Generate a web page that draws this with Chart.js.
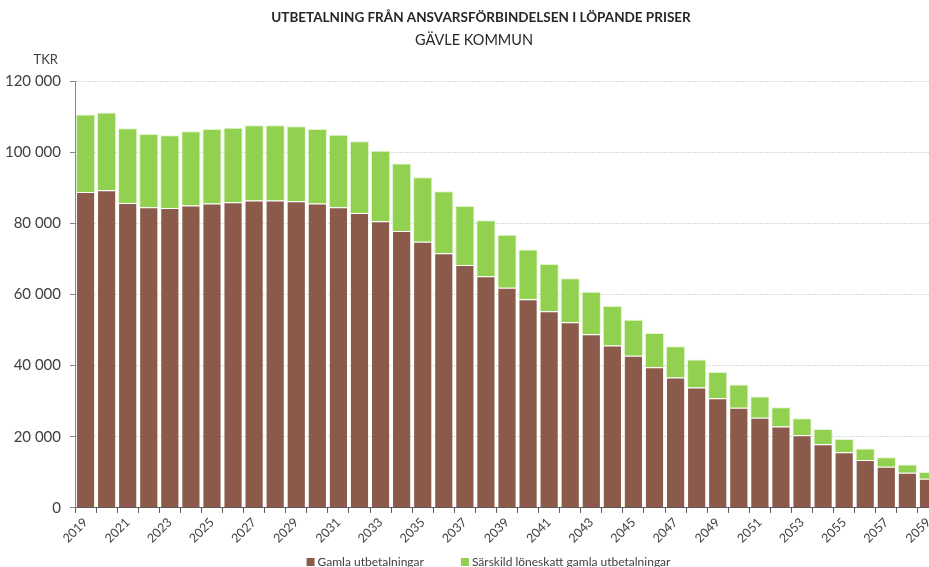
<!DOCTYPE html>
<html>
<head>
<meta charset="utf-8">
<script src="https://cdn.jsdelivr.net/npm/chart.js@4.4.1/dist/chart.umd.min.js"></script>
<style>
  html, body { margin: 0; padding: 0; background: #ffffff; overflow: hidden; }
  #wrap { position: absolute; left: 0; top: 0; width: 945px; height: 580px; }
</style>
</head>
<body>
<div id="wrap"><canvas id="c" width="945" height="580"></canvas></div>
<script>
// ---- data ----
const years = ["2019","2020","2021","2022","2023","2024","2025","2026","2027","2028",
  "2029","2030","2031","2032","2033","2034","2035","2036","2037","2038",
  "2039","2040","2041","2042","2043","2044","2045","2046","2047","2048",
  "2049","2050","2051","2052","2053","2054","2055","2056","2057","2058","2059"];

const gamlaUtbetalningar = [88800, 89320, 85730, 84520, 84320, 84970, 85540, 85930, 86390, 86390,
  86200, 85540, 84520, 82910, 80560, 77820, 74800, 71610, 68300, 65110,
  61900, 58680, 55290, 52180, 48790, 45650, 42740, 39550, 36640, 33820,
  30800, 28160, 25340, 22880, 20450, 17900, 15640, 13470, 11580, 9890, 8190];

const sarskildLoneskatt = [21800, 21810, 20970, 20570, 20400, 20880, 20960, 20960, 21150, 21150,
  21060, 20960, 20400, 20120, 19830, 18990, 18140, 17380, 16590, 15740,
  14880, 13980, 13290, 12360, 11960, 11100, 10120, 9640, 8770, 7920,
  7380, 6520, 5950, 5410, 4730, 4260, 3700, 3240, 2670, 2300, 1910];

const yTicks = [0, 20000, 40000, 60000, 80000, 100000, 120000];

const seriesNames = ["Gamla utbetalningar", "Särskild löneskatt gamla utbetalningar"];
const seriesColors = ["#8B5A4A", "#92D050"];
const titleText = "UTBETALNING FRÅN ANSVARSFÖRBINDELSEN I LÖPANDE PRISER";
const subtitleText = "GÄVLE KOMMUN";
const unitText = "TKR";

// ---- chart ----
const FONT = "Lato, 'Open Sans', 'DejaVu Sans', sans-serif";
Chart.defaults.font.family = FONT;
Chart.defaults.color = "#404040";

function fmt(v) {
  return String(v).replace(/\B(?=(\d{3})+(?!\d))/g, " ");
}

// Titles, unit label and legend drawn as text on the canvas
const textPlugin = {
  id: "textDecor",
  afterDraw(chart) {
    const ctx = chart.ctx;
    const a = chart.chartArea;
    ctx.save();
    ctx.textBaseline = "middle";

    // title + subtitle
    ctx.fillStyle = "#262626";
    ctx.textAlign = "center";
    ctx.font = "bold 13.5px " + FONT;
    ctx.fillText(titleText, 481, 18);
    ctx.font = "14.5px " + FONT;
    ctx.fillText(subtitleText, 474, 40);

    // unit
    ctx.fillStyle = "#404040";
    ctx.textAlign = "right";
    ctx.font = "13px " + FONT;
    ctx.fillText(unitText, a.left - 17, a.top - 21);

    // legend
    ctx.font = "12px " + FONT;
    ctx.textAlign = "left";
    const box = 8, gapText = 3, gapItem = 37;
    const ds = chart.data.datasets;
    const widths = ds.map(d => box + gapText + ctx.measureText(d.label).width);
    const total = widths.reduce((s, w) => s + w, 0) + gapItem * (ds.length - 1);
    let x = 488.5 - total / 2;
    const y = 562;
    ds.forEach((d, i) => {
      ctx.fillStyle = d.backgroundColor;
      ctx.fillRect(x, y - box / 2, box, box);
      ctx.fillStyle = "#404040";
      ctx.fillText(d.label, x + box + gapText, y);
      x += widths[i] + gapItem;
    });
    ctx.restore();
  }
};

new Chart(document.getElementById("c"), {
  type: "bar",
  data: {
    labels: years,
    datasets: [
      {
        label: seriesNames[0],
        data: gamlaUtbetalningar,
        backgroundColor: seriesColors[0],
        borderColor: "rgba(255,255,255,0.35)",
        borderWidth: 1,
        stack: "s"
      },
      {
        label: seriesNames[1],
        data: sarskildLoneskatt,
        backgroundColor: seriesColors[1],
        borderColor: "rgba(220,245,200,0.9)",
        borderWidth: 1,
        stack: "s"
      }
    ]
  },
  options: {
    responsive: false,
    animation: false,
    events: [],
    layout: { padding: { left: 4, right: 6, top: 81, bottom: 32 } },
    datasets: { bar: { categoryPercentage: 1.0, barPercentage: 0.91 } },
    plugins: {
      title: { display: false },
      legend: { display: false },
      tooltip: { enabled: false }
    },
    scales: {
      x: {
        stacked: true,
        offset: true,
        grid: {
          offset: true,
          display: true,
          drawOnChartArea: false,
          drawTicks: true,
          tickLength: 5,
          tickColor: "#595959"
        },
        border: { display: true, color: "#595959", width: 1 },
        ticks: {
          autoSkip: false,
          minRotation: 45,
          maxRotation: 45,
          padding: 2,
          color: "#404040",
          font: { size: 12.5 },
          callback: function (value, index) {
            return index % 2 === 0 ? years[index] : "";
          }
        }
      },
      y: {
        stacked: true,
        min: yTicks[0],
        max: yTicks[yTicks.length - 1],
        afterBuildTicks: function (scale) {
          scale.ticks = yTicks.map(v => ({ value: v }));
        },
        afterFit: function (scale) { scale.width = 71; },
        grid: {
          color: "#d9d9d9",
          lineWidth: 1,
          drawTicks: true,
          tickLength: 5,
          tickColor: "#868686"
        },
        border: { display: true, color: "#868686", width: 1, dash: [2, 1] },
        ticks: {
          padding: 9,
          color: "#404040",
          font: { size: 15 },
          callback: function (v) { return fmt(v); }
        }
      }
    }
  },
  plugins: [textPlugin]
});
</script>
</body>
</html>
